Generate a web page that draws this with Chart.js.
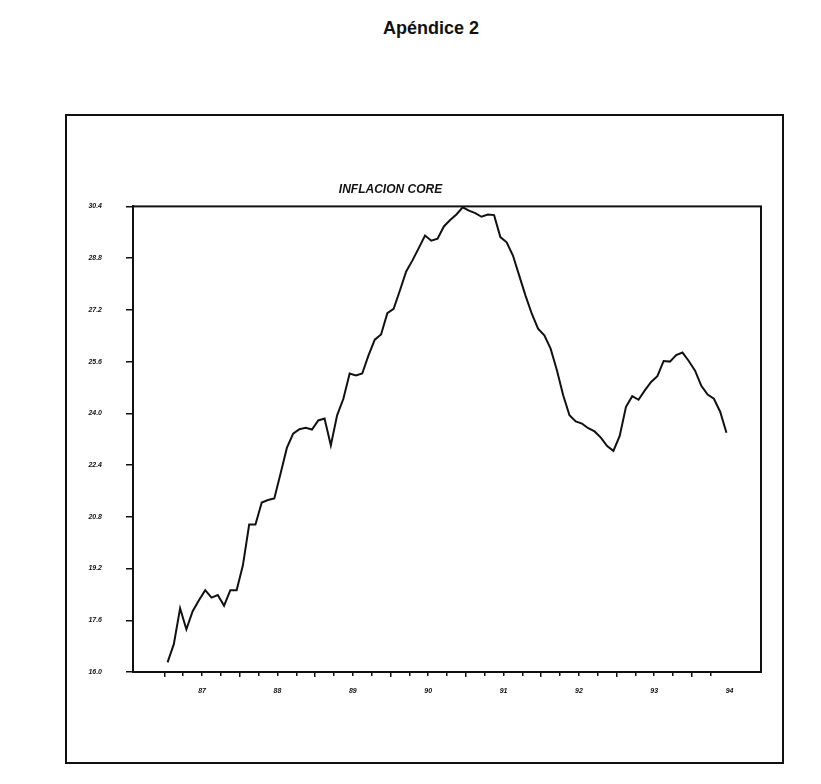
<!DOCTYPE html>
<html>
<head>
<meta charset="utf-8">
<script src="https://cdn.jsdelivr.net/npm/chart.js@4"></script>
<style>
  body { margin: 0; background: #fff; }
  #page { position: relative; width: 821px; height: 784px; }
  #apendice { position: absolute; left: 331px; width: 200px; top: 18px; text-align: center;
              font: bold 18px "Liberation Sans", Arial, sans-serif; color: #111; }
  #frame { position: absolute; left: 65px; top: 114px; width: 715px; height: 646px; border: 2px solid #111; }
  canvas { position: absolute; left: 0; top: 0; }
</style>
</head>
<body>
<div id="page">
  <div id="apendice">Apéndice 2</div>
  <div id="frame"></div>
  <canvas id="coreChart" width="821" height="784"></canvas>
</div>
<script>
// monthly series, Jan 1987 .. Jun 1994 (x = month index from Jan 1987)
const yearLabels = ['87', '88', '89', '90', '91', '92', '93', '94'];
const yTicks = [16.0, 17.6, 19.2, 20.8, 22.4, 24.0, 25.6, 27.2, 28.8, 30.4];
const inflacionCore = [
  16.30, 16.86, 17.97, 17.32, 17.88, 18.22, 18.53, 18.30, 18.38, 18.05, 18.53, 18.53, // 87
  19.30, 20.56, 20.56, 21.24, 21.32, 21.37, 22.14, 22.93, 23.37, 23.51, 23.55, 23.50, // 88
  23.78, 23.84, 23.01, 23.94, 24.45, 25.23, 25.17, 25.23, 25.79, 26.28, 26.44, 27.10, // 89
  27.23, 27.80, 28.39, 28.73, 29.11, 29.50, 29.34, 29.40, 29.78, 29.98, 30.15, 30.37, // 90
  30.27, 30.19, 30.08, 30.15, 30.13, 29.45, 29.29, 28.88, 28.26, 27.64, 27.08, 26.62, // 91
  26.41, 26.00, 25.33, 24.56, 23.94, 23.75, 23.68, 23.54, 23.44, 23.25, 22.99, 22.84, // 92
  23.30, 24.20, 24.53, 24.42, 24.71, 24.97, 25.15, 25.62, 25.60, 25.80, 25.88, 25.62, // 93
  25.32, 24.85, 24.58, 24.45, 24.05, 23.40                                             // 94
];

// quarter boundaries (a year starts at -0.5 + 12k); the last one only carries the '94' label
const quarterTicks = [];
for (let k = 0; k <= 30; k++) quarterTicks.push(-0.5 + 3 * k);
const lastMark = 86.5;

const tickFont = { family: '"Liberation Sans", Arial, sans-serif', size: 7, weight: 'bold', style: 'italic' };

const plotFrame = {
  id: 'plotFrame',
  afterDraw(chart) {
    const { ctx, chartArea: a } = chart;
    ctx.save();
    ctx.strokeStyle = '#111';
    ctx.lineWidth = 2;
    ctx.strokeRect(a.left, a.top, a.right - a.left, a.bottom - a.top);
    ctx.restore();
  }
};

const ctx = document.getElementById('coreChart').getContext('2d');
new Chart(ctx, {
  type: 'line',
  data: {
    datasets: [{
      data: inflacionCore.map((v, i) => ({ x: i, y: v })),
      borderColor: '#111',
      borderWidth: 2,
      pointRadius: 0,
      tension: 0,
      fill: false
    }]
  },
  options: {
    responsive: false,
    animation: false,
    devicePixelRatio: 1,
    layout: { padding: { left: 20, right: 60, top: 0, bottom: 72 } },
    plugins: {
      legend: { display: false },
      tooltip: { enabled: false },
      title: {
        display: true,
        text: 'INFLACION CORE',
        color: '#111',
        font: { family: '"Liberation Sans", Arial, sans-serif', size: 12, weight: 'bold', style: 'italic' },
        padding: { top: 182, bottom: 10 }
      }
    },
    scales: {
      x: {
        type: 'linear',
        min: -5.5,
        max: 94.5,
        afterBuildTicks: s => { s.ticks = quarterTicks.map(v => ({ value: v })); },
        afterFit: s => { s.height = 40; },
        grid: {
          drawOnChartArea: false,
          tickLength: 5,
          color: c => (c.tick && c.tick.value > lastMark) ? 'rgba(0,0,0,0)' : '#111',
          lineWidth: 1.5,
          tickBorderDash: c => (c.tick && (c.tick.value + 0.5) % 12 === 0) ? [] : [3, 10]
        },
        border: { color: '#111', width: 2 },
        ticks: {
          autoSkip: false,
          maxRotation: 0,
          padding: 10,
          color: '#111',
          font: tickFont,
          callback: v => {
            const j = (v - 5.5) / 12;
            return Number.isInteger(j) ? yearLabels[j] : '';
          }
        }
      },
      y: {
        min: 16,
        max: 30.4,
        afterBuildTicks: s => { s.ticks = yTicks.map(v => ({ value: v })); },
        afterFit: s => { s.width = 113; },
        grid: { drawOnChartArea: false, tickLength: 7, color: '#111', lineWidth: 1.5 },
        border: { color: '#111', width: 2 },
        ticks: { padding: 24, color: '#111', font: tickFont, callback: v => v.toFixed(1) }
      }
    }
  },
  plugins: [plotFrame]
});
</script>
</body>
</html>
